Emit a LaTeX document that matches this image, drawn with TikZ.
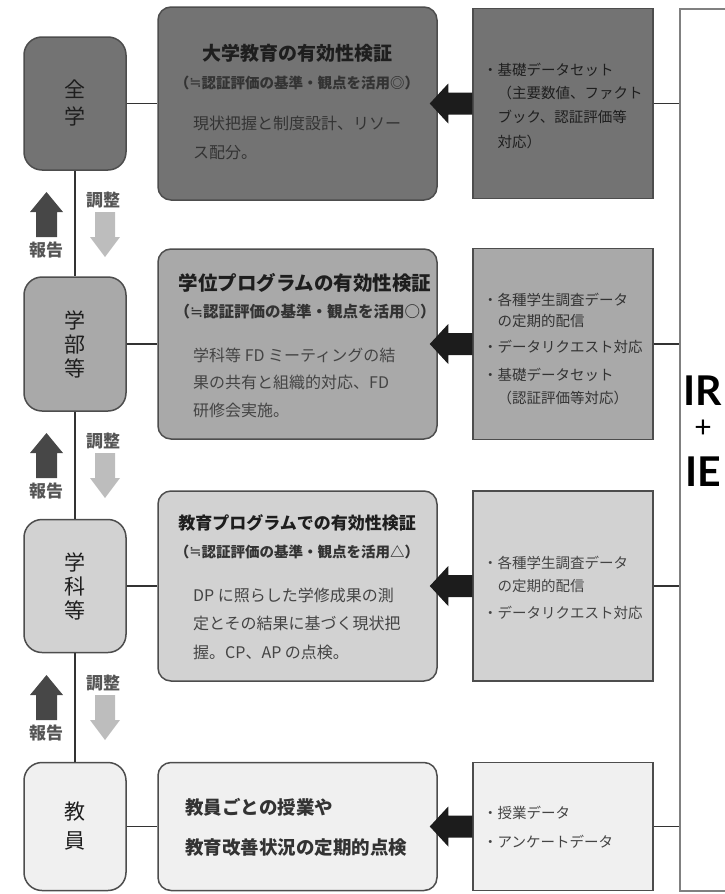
\documentclass[tikz,border=0pt]{standalone}
\usepackage{fontspec}
\setmainfont{Noto Sans CJK JP}
\newfontfamily\symf{DejaVu Sans}
\newfontfamily\latof{Lato}
\usetikzlibrary{calc}
\definecolor{gA}{HTML}{737373}
\definecolor{gB}{HTML}{A9A9A9}
\definecolor{gC}{HTML}{D2D2D2}
\definecolor{gD}{HTML}{F0F0F0}
\definecolor{bordc}{HTML}{4D4D4D}
\definecolor{connc}{HTML}{333333}
\definecolor{irc}{HTML}{808080}
\definecolor{upc}{HTML}{474747}
\definecolor{downc}{HTML}{BDBDBD}
\definecolor{bigc}{HTML}{1C1C1C}
\definecolor{tA}{HTML}{1E1E1E}
\definecolor{tB}{HTML}{333333}
\definecolor{tC}{HTML}{444444}
\definecolor{tL}{HTML}{555555}
\newcommand{\myfs}[2]{\fontsize{#1}{#2}\selectfont}
\newcommand{\approxsym}{{\symf\mdseries\raisebox{0.05em}{≒}}}
\tikzset{
  lev/.style={draw=bordc, line width=1.5pt, rounded corners=18pt, minimum width=102pt, inner sep=0pt, align=center, text=tA},
  mid/.style={draw=bordc, line width=1.5pt, rounded corners=13pt, minimum width=279pt, inner sep=0pt},
  dat/.style={draw=bordc, line width=1.5pt, minimum width=180pt, inner sep=0pt},
  conn/.style={draw=connc, line width=1.6pt},
  tx/.style={inner sep=0pt},
  txw/.style={inner sep=0pt, anchor=west},
  ttl/.style={tx, font=\bfseries\myfs{19}{19}, text=tA},
  sub/.style={tx, font=\bfseries\myfs{14.5}{14.5}, text=tB},
  bdy/.style={txw, font=\myfs{16}{16}},
  dtx/.style={txw, font=\myfs{14.5}{14.5}},
  lbl/.style={tx, font=\bfseries\myfs{17}{17}, text=tL},
  bigarrow/.style={fill=bigc},
}
\begin{document}
\begin{tikzpicture}[x=1pt,y=-1pt]
\useasboundingbox (0,0) rectangle (725,894);
\clip (0,0) rectangle (725,894);

% left level nodes
\node[lev, fill=gA, minimum height=133pt, font=\myfs{21}{27}] (L1) at (75,103.5) {全\\学};
\node[lev, fill=gB, minimum height=134pt, font=\myfs{21}{24}] (L2) at (75,344) {学\\部\\等};
\node[lev, fill=gC, minimum height=133pt, font=\myfs{21}{24}] (L3) at (75,586) {学\\科\\等};
\node[lev, fill=gD, minimum height=128pt, font=\myfs{21}{29}] (L4) at (75,826.5) {教\\員};

% middle boxes
\node[mid, fill=gA, minimum height=193pt] (M1) at (297.5,103.5) {};
\node[mid, fill=gB, minimum height=190pt] (M2) at (297.5,344) {};
\node[mid, fill=gC, minimum height=190pt] (M3) at (297.5,586) {};
\node[mid, fill=gD, minimum height=128pt] (M4) at (297.5,826.5) {};

% data boxes
\node[dat, fill=gA, minimum height=190pt] (R1) at (563,103.5) {};
\node[dat, fill=gB, minimum height=191pt] (R2) at (563,344) {};
\node[dat, fill=gC, minimum height=190pt] (R3) at (563,586) {};
\node[dat, fill=gD, minimum height=128pt] (R4) at (563,826.5) {};

% IR + IE box
\node[draw=irc, line width=1.5pt, minimum width=140pt, minimum height=882pt, inner sep=0pt, anchor=north west] (IRB) at (679,8) {};
\node[tx, font=\latof\bfseries\myfs{41}{41}, text=black] (IRt) at (703,391) {IR};
\node[tx, font=\latof\myfs{30}{30}, text=black] (PLt) at (703,429) {+};
\node[tx, font=\latof\bfseries\myfs{41}{41}, text=black] (IEt) at (703,472) {IE};

% connectors
\foreach \i in {1,2,3,4}{
  \draw[conn] (L\i.east) -- (L\i.east -| M\i.west);
  \draw[conn] (R\i.east) -- (R\i.east -| IRB.west);
  \fill[bigarrow] ($(R\i.west)+(0,-11)$) -- ++(-24,0) -- ++(0,-9) -- ($(M\i.east)+(-8,0)$)
     -- ($(R\i.west)+(-24,20)$) -- ++(0,-9) -- ($(R\i.west)+(0,11)$) -- cycle;
}
\draw[conn] (L1.south) -- (L2.north);
\draw[conn] (L2.south) -- (L3.north);
\draw[conn] (L3.south) -- (L4.north);

% report / adjust arrows and labels
\foreach \o/\k in {0/1,241/2,483/3}{
  \fill[upc] (36,237+\o) -- (36,212+\o) -- (30,212+\o) -- (46.5,192+\o) -- (63,212+\o) -- (57,212+\o) -- (57,237+\o) -- cycle;
  \fill[downc] (95,212+\o) -- (115,212+\o) -- (115,237+\o) -- (120,237+\o) -- (105,257+\o) -- (90,237+\o) -- (95,237+\o) -- cycle;
  \node[lbl] (adj\k) at (103,200+\o) {調整};
  \node[lbl] (rep\k) at (46,250+\o) {報告};
}

% middle texts
\node[ttl] (M1a) at (297,53) {大学教育の有効性検証};
\node[sub] (M1b) at (297,83) {（\approxsym 認証評価の基準・観点を活用◎）};
\node[bdy, text=tB] (M1c) at (193,123) {現状把握と制度設計、リソー};
\node[bdy, text=tB] (M1d) at (193,153) {ス配分。};

\node[ttl, font=\bfseries\myfs{19.5}{19.5}] (M2a) at (305,283) {学位プログラムの有効性検証};
\node[sub, font=\bfseries\myfs{15.5}{15.5}] (M2b) at (305,312) {（\approxsym 認証評価の基準・観点を活用○）};
\node[bdy, text=tC] (M2c) at (193,355) {学科等 FD ミーティングの結};
\node[bdy, text=tC] (M2d) at (193,382) {果の共有と組織的対応、FD};
\node[bdy, text=tC] (M2e) at (193,410) {研修会実施。};

\node[ttl, font=\bfseries\myfs{17}{17}] (M3a) at (297,523) {教育プログラムでの有効性検証};
\node[sub] (M3b) at (297,552) {（\approxsym 認証評価の基準・観点を活用△）};
\node[bdy, text=tC] (M3c) at (193,595) {DP に照らした学修成果の測};
\node[bdy, text=tC] (M3d) at (193,623) {定とその結果に基づく現状把};
\node[bdy, text=tC] (M3e) at (193,652) {握。CP、AP の点検。};

\node[txw, font=\bfseries\myfs{18.5}{18.5}, text=tB] (M4a) at (185,807) {教員ごとの授業や};
\node[txw, font=\bfseries\myfs{18.5}{18.5}, text=tB] (M4b) at (185,847) {教育改善状況の定期的点検};

% data texts
\node[dtx, text=tA] (R1a) at (483,70) {・基礎データセット};
\node[dtx, text=tA] (R1b) at (497.5,93) {（主要数値、ファクト};
\node[dtx, text=tA] (R1c) at (497.5,117) {ブック、認証評価等};
\node[dtx, text=tA] (R1d) at (497.5,142) {対応）};

\node[dtx, text=tB] (R2a) at (483,300) {・各種学生調査データ};
\node[dtx, text=tB] (R2b) at (497.5,321) {の定期的配信};
\node[dtx, text=tB] (R2c) at (483,347) {・データリクエスト対応};
\node[dtx, text=tB] (R2d) at (483,375) {・基礎データセット};
\node[dtx, text=tB] (R2e) at (497.5,398) {（認証評価等対応）};

\node[dtx, text=tC] (R3a) at (483,563) {・各種学生調査データ};
\node[dtx, text=tC] (R3b) at (497.5,586) {の定期的配信};
\node[dtx, text=tC] (R3c) at (483,613) {・データリクエスト対応};

\node[dtx, text=tC] (R4a) at (483,813) {・授業データ};
\node[dtx, text=tC] (R4b) at (483,842) {・アンケートデータ};
\end{tikzpicture}
\end{document}
